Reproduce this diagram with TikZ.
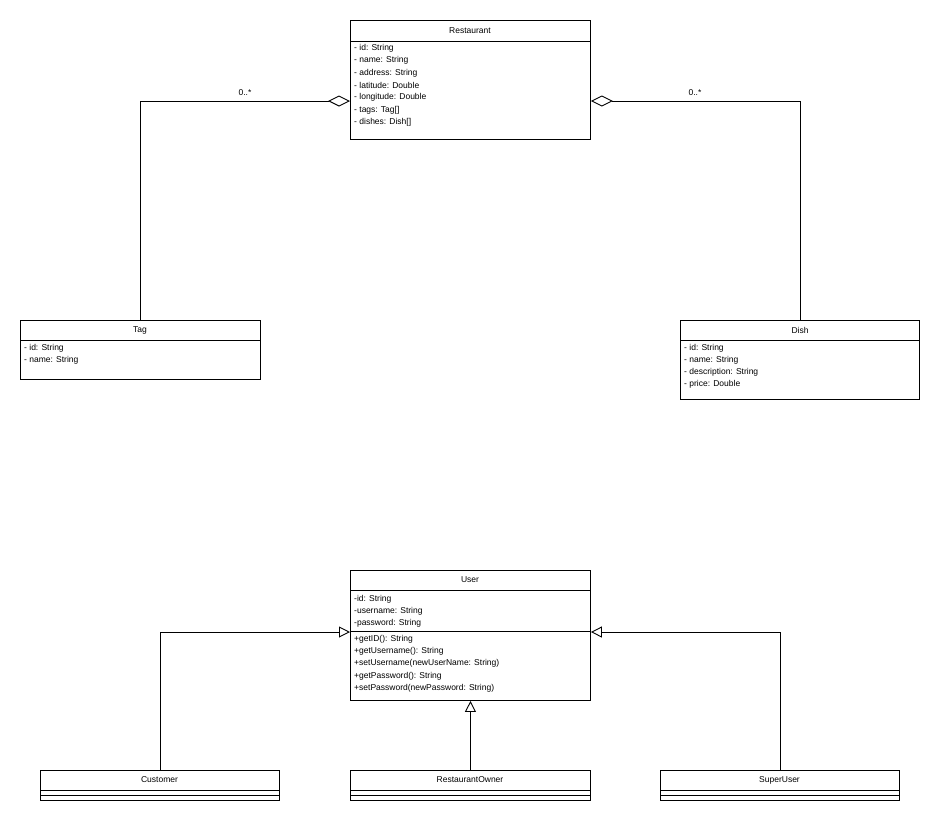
\documentclass[tikz,border=0pt]{standalone}
\usepackage{fontspec}
\setmainfont{Liberation Sans}
\usetikzlibrary{arrows.meta}
\begin{document}
\begin{tikzpicture}[x=1pt,y=-1pt,
  box/.style={draw,line width=0.9pt,inner sep=0pt,anchor=north west},
  txt/.style={anchor=west,inner sep=0pt,font=\fontsize{8.5}{10}\selectfont},
  ttl/.style={anchor=center,inner sep=0pt,font=\fontsize{8.5}{10}\selectfont},
  agg/.style={{Diamond[open,length=22pt,width=11pt]}-},
  gen/.style={-{Triangle[open,length=11pt,width=11pt]}},
  ln/.style={line width=0.9pt}]
\useasboundingbox (0,0) rectangle (940,820);
% Restaurant
\node[box,minimum width=240pt,minimum height=119pt] (R) at (350,20) {};
\draw[ln] (350,41) -- (590,41);
\node[ttl] (Rt) at (470,31) {Restaurant};
\foreach \t [count=\i from 0] in {- id: String,- name: String,- address: String,- latitude: Double,- longitude: Double,- tags: Tag[],- dishes: Dish[]}
  \node[txt] (r\i) at (354,48+12.4*\i) {\t};
% Tag
\node[box,minimum width=240pt,minimum height=59pt] (T) at (20,320) {};
\draw[ln] (20,340) -- (260,340);
\node[ttl] (Tt) at (140,330) {Tag};
\node[txt] (t0) at (24,348) {- id: String};
\node[txt] (t1) at (24,360.4) {- name: String};
% Dish
\node[box,minimum width=239pt,minimum height=79pt] (D) at (680,320) {};
\draw[ln] (680,340) -- (919,340);
\node[ttl] (Dt) at (800,330) {Dish};
\foreach \t [count=\i from 0] in {- id: String,- name: String,- description: String,- price: Double}
  \node[txt] (d\i) at (684,348+12.2*\i) {\t};
% User
\node[box,minimum width=240pt,minimum height=130pt] (U) at (350,570) {};
\draw[ln] (350,590) -- (590,590);
\draw[ln] (350,631) -- (590,631);
\node[ttl] (Ut) at (470,580) {User};
\foreach \t [count=\i from 0] in {-id: String,-username: String,-password: String}
  \node[txt] (u\i) at (354,599+12.2*\i) {\t};
\foreach \t [count=\i from 0] in {+getID(): String,+getUsername(): String,+setUsername(newUserName: String),+getPassword(): String,+setPassword(newPassword: String)}
  \node[txt] (m\i) at (354,639+12.3*\i) {\t};
% subclasses
\foreach \n/\x/\w/\lab in {C/40/239/Customer,O/350/240/RestaurantOwner,S/660/239/SuperUser}{
  \node[box,minimum width=\w pt,minimum height=30pt] (\n) at (\x,770) {};
  \draw[ln] (\x,790) -- ++(\w,0);
  \draw[ln] (\x,795) -- ++(\w,0);
  \node[ttl] (\n t) at (\x+\w/2,780) {\lab};
}
% connectors
\coordinate (tb) at (140,101);
\coordinate (db) at (800,101);
\draw[ln,agg] (R.west |- tb) -- (tb) -- (T.north -| tb);
\draw[ln,agg] (R.east |- db) -- (db) -- (D.north -| db);
\node[ttl] (m1) at (245,93) {0..*};
\node[ttl] (m2) at (695,93) {0..*};
\coordinate (cb) at (160,632);
\coordinate (sb) at (780,632);
\draw[ln,gen] (C.north -| cb) -- (cb) -- (U.west |- cb);
\draw[ln,gen] (S.north -| sb) -- (sb) -- (U.east |- sb);
\draw[ln,gen] (O.north) -- (U.south);
\end{tikzpicture}
\end{document}
